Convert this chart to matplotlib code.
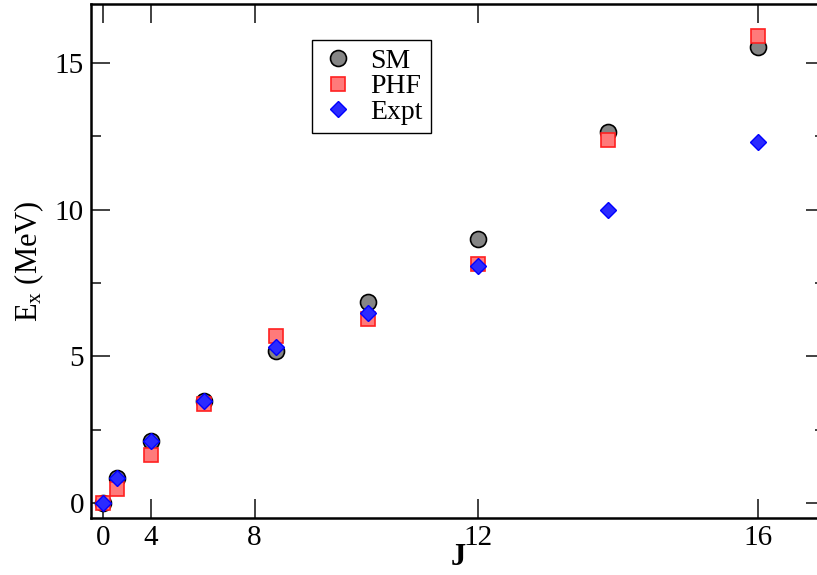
import matplotlib
matplotlib.use("Agg")
import matplotlib.pyplot as plt
import numpy as np

plt.rcParams["font.family"] = ["Liberation Serif", "DejaVu Serif"]
plt.rcParams["mathtext.fontset"] = "custom"
plt.rcParams["mathtext.rm"] = "Liberation Serif"
plt.rcParams["mathtext.it"] = "Liberation Serif:italic"

# spins; the x axis is J(J+1)
spins = np.array([0, 2, 4, 6, 8, 10, 12, 14, 16])
sm = [0.0, 0.85, 2.11, 3.50, 5.17, 6.87, 9.00, 12.63, 15.55]
phf = [0.0, 0.50, 1.63, 3.37, 5.70, 6.27, 8.16, 12.37, 15.92]
expt = [0.0, 0.85, 2.11, 3.50, 5.31, 6.48, 8.08, 10.00, 12.31]

tick_pos = [0, 20, 63, 156, 272]
tick_labels = ["0", "4", "8", "12", "16"]

x = spins * (spins + 1)

fig = plt.figure(figsize=(8.17, 5.75), dpi=100)
ax = fig.add_axes([91 / 817, 57 / 575, 734 / 817, 514 / 575])

ax.plot(x, sm, "o", ms=11.5, mfc="#858585", mec="black", mew=1.2, ls="none", label="SM")
ax.plot(x, phf, "s", ms=10.5, mfc="#ff7a7a", mec="#ff2020", mew=1.2, ls="none", label="PHF")
ax.plot(x, expt, "D", ms=7.8, mfc="#2a2aff", mec="#0000ff", mew=1.0, ls="none", label="Expt")

ax.set_xlim(-5, 300)
ax.set_ylim(-0.5, 17)
ax.set_xticks(tick_pos, labels=tick_labels)
ax.set_yticks([0, 5, 10, 15])
ax.set_yticks([2.5, 7.5, 12.5], minor=True)
ax.tick_params(which="both", direction="in", top=True, right=True, labelsize=21, width=1.3, color="#333333")
ax.tick_params(which="major", length=14, pad=5)
ax.tick_params(which="minor", length=7)
for s in ax.spines.values():
    s.set_linewidth(1.8)

ax.set_xlabel("J", fontsize=22, fontweight="bold", labelpad=-6)
ax.set_ylabel("E$_\\mathrm{x}$ (MeV)", fontsize=22, labelpad=6)

leg = ax.legend(loc="upper left", bbox_to_anchor=((312 - 91) / 734, (518 - 40) / 514),
                fontsize=20, frameon=True, fancybox=False, edgecolor="black",
                framealpha=1, borderpad=0.3, labelspacing=0.0, handletextpad=0.5,
                handlelength=1.3, borderaxespad=0)
leg.get_frame().set_linewidth(1.0)

fig.savefig("out.png", dpi=100)
